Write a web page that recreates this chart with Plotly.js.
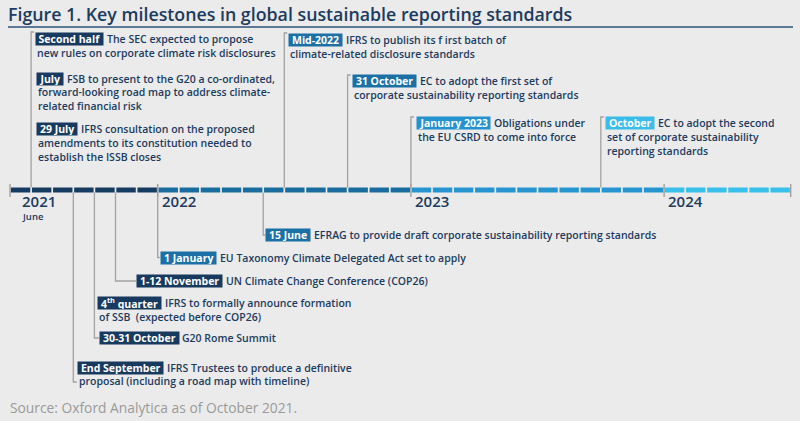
<!DOCTYPE html>
<html><head><meta charset="utf-8">
<script src="https://cdn.plot.ly/plotly-3.0.1.min.js"></script>
<style>html,body{margin:0;padding:0;background:#ebebeb;}</style>
</head><body>
<div id="chart" style="width:800px;height:421px;"></div>
<script>
// ---------------- DATA ----------------
const timelineStart = '2021-06';
const timelineEnd = '2024-06';           // last month drawn on the bar
const yearLabels = ['2021', '2022', '2023', '2024'];
const yearTickDates = ['2021-06', '2022-01', '2023-01', '2024-01'];
const firstMonthLabel = 'June';

const eventDates = ['2021-07', '2021-07', '2021-07', '2022-07', '2022-10', '2023-01', '2023-10',
                    '2022-06', '2022-01', '2021-11', '2021-10', '2021-10', '2021-09'];
const eventLabels = ['Second half', 'July', '29 July', 'Mid-2022', '31 October', 'January 2023', 'October',
                     '15 June', '1 January', '1-12 November', '4<sup>th</sup> quarter', '30-31 October', 'End September'];
const eventTexts = [
  ['The SEC expected to propose', 'new rules on corporate climate risk disclosures'],
  ['FSB to present to the G20 a co-ordinated,', 'forward-looking road map to address climate-', 'related financial risk'],
  ['IFRS consultation on the proposed', 'amendments to its constitution needed to', 'establish the ISSB closes'],
  ['IFRS to publish its f irst batch of', 'climate-related disclosure standards'],
  ['EC to adopt the first set of', 'corporate sustainability reporting standards'],
  ['Obligations under', 'the EU CSRD to come into force'],
  ['EC to adopt the second', 'set of corporate sustainability', 'reporting standards'],
  ['EFRAG to provide draft corporate sustainability reporting standards'],
  ['EU Taxonomy Climate Delegated Act set to apply'],
  ['UN Climate Change Conference (COP26)'],
  ['IFRS to formally announce formation', 'of SSB  (expected before COP26)'],
  ['G20 Rome Summit'],
  ['IFRS Trustees to produce a definitive', 'proposal (including a road map with timeline)']
];
const titleText = 'Figure 1. Key milestones in global sustainable reporting standards';
const sourceText = 'Source: Oxford Analytica as of October 2021.';

// ---------------- LAYOUT / STYLE ----------------
const yearColors = ['#163b61', '#1b6c9e', '#2594cf', '#38c0ea'];
const labelColors = ['#183a5e', '#183a5e', '#183a5e', '#1b70a5', '#1b70a5', '#2592d0', '#3bbde9',
                     '#1b70a5', '#1b70a5', '#183a5e', '#183a5e', '#183a5e', '#183a5e'];
const eventFirstY = [39, 78.5, 129, 40, 81, 123, 123, 235, 257.5, 281, 303, 338, 367.5];
const eventTextOffsetPx = [4, 5, 5, 4, 4, 5, 4, 2, 2, 20.5, 3, 4.5, 3.5];
const connectorY = [32, null, null, 33, 75, 117, 117, 235, 257.5, 281, null, 338, 382];
const stubPx = [3, 0, 0, 3, 3, 3, 3, 2, 2, 20.5, 0, 4.5, 3.5];
const barY = 190, barAboveY = 187.5, barBelowY = 192.5;
const LINE_H = 13.8;
const FONT = '"Open Sans", sans-serif';
const TEXT_COLOR = '#1c3b5e';
const BODY_SIZE = 10.5;
const X_RANGE = [-0.474, 37.44];
const W = 800, H = 421;
const pxPerMonth = W / (X_RANGE[1] - X_RANGE[0]);

function mIdx(s) { const [y, m] = s.split('-').map(Number); return (y - 2021) * 12 + (m - 6); }

const cv = document.createElement('canvas').getContext('2d');
function measure(html, weight, size) {
  cv.font = weight + ' ' + size + 'px "Open Sans"';
  const m = html.match(/^(.*)<sup>(.*)<\/sup>(.*)$/);
  if (m) {
    let w = cv.measureText(m[1] + m[3]).width;
    cv.font = weight + ' ' + (size * 0.7) + 'px "Open Sans"';
    return w + cv.measureText(m[2]).width;
  }
  return cv.measureText(html).width;
}

const traces = [];
// timeline bar: one segment per month, coloured by year
const s0 = mIdx(timelineStart), s1 = mIdx(timelineEnd);
yearLabels.forEach((yr, yi) => {
  const xs = [], ys = [];
  for (let m = s0; m <= s1; m++) {
    const yearOf = 2021 + Math.floor((m + 5) / 12);
    if (String(yearOf) !== yr) continue;
    xs.push(m + 0.04, m + 0.96, null); ys.push(barY, barY, null);
  }
  traces.push({x: xs, y: ys, mode: 'lines', line: {color: yearColors[yi], width: 5}, hoverinfo: 'skip'});
});
// tick marks at the ends and year starts
const tickXs = [], tickYs = [];
[s0, s1 + 1].concat(yearTickDates.slice(1).map(mIdx)).forEach(m => {
  tickXs.push(m, m, null); tickYs.push(184, 197, null);
});
traces.push({x: tickXs, y: tickYs, mode: 'lines', line: {color: '#9a9a9a', width: 1.3}, hoverinfo: 'skip'});

// connectors
const cx = [], cy = [];
eventDates.forEach((d, i) => {
  if (connectorY[i] === null) return;
  const m = mIdx(d);
  const above = connectorY[i] < barY;
  const y0 = above ? barAboveY : barBelowY;
  cx.push(m, m, m + stubPx[i] / pxPerMonth, null);
  cy.push(y0, connectorY[i], connectorY[i], null);
});
traces.push({x: cx, y: cy, mode: 'lines', line: {color: '#a2a2a2', width: 1.3}, hoverinfo: 'skip'});

const annotations = [];
eventDates.forEach((d, i) => {
  const m = mIdx(d);
  const off = eventTextOffsetPx[i];
  const bw = measure(eventLabels[i], 700, BODY_SIZE) + 6;
  annotations.push({x: m, y: eventFirstY[i], xref: 'x', yref: 'y', xanchor: 'left', yanchor: 'middle',
    xshift: off, text: eventLabels[i], showarrow: false, bgcolor: labelColors[i], borderpad: 0,
    width: bw, height: 12, align: 'center',
    font: {family: FONT, size: BODY_SIZE, color: '#ffffff', weight: 700}});
  eventTexts[i].forEach((line, li) => {
    annotations.push({x: m, y: eventFirstY[i] + li * LINE_H, xref: 'x', yref: 'y', xanchor: 'left', yanchor: 'middle',
      xshift: li === 0 ? off + bw + 3 : off, text: line, showarrow: false, align: 'left',
      font: {family: FONT, size: BODY_SIZE, color: TEXT_COLOR, weight: 600}});
  });
});
// year labels
yearLabels.forEach((yr, i) => {
  annotations.push({x: mIdx(yearTickDates[i]), y: 201, xref: 'x', yref: 'y', xanchor: 'left', yanchor: 'middle',
    xshift: i === 0 ? 10 : 2, text: yr, showarrow: false,
    font: {family: FONT, size: 15, color: TEXT_COLOR, weight: 600}});
});
annotations.push({x: mIdx(yearTickDates[0]), y: 216, xref: 'x', yref: 'y', xanchor: 'left', yanchor: 'middle',
  xshift: 10, text: firstMonthLabel, showarrow: false, font: {family: FONT, size: 9.5, color: TEXT_COLOR, weight: 600}});
// source
annotations.push({x: 8 / W, y: 407, xref: 'paper', yref: 'y', xanchor: 'left', yanchor: 'middle',
  text: sourceText, showarrow: false, font: {family: FONT, size: 13.8, color: '#9a9a9a', weight: 400}});

const layout = {
  width: W, height: H,
  margin: {l: 0, r: 0, t: 0, b: 0},
  paper_bgcolor: '#ebebeb', plot_bgcolor: '#ebebeb',
  showlegend: false, hovermode: false,
  title: {text: titleText, x: 8 / W, xanchor: 'left', xref: 'container', y: 1 - 15 / H, yanchor: 'middle', yref: 'container',
    font: {family: FONT, size: 17.8, color: '#1c3b5e', weight: 600}},
  xaxis: {range: X_RANGE, visible: false, fixedrange: true},
  yaxis: {range: [H, 0], visible: false, fixedrange: true},
  shapes: [{type: 'line', xref: 'paper', yref: 'y', x0: 8 / W, x1: 793 / W, y0: 27, y1: 27,
    line: {color: '#2d5279', width: 1.3}}],
  annotations: annotations
};
Plotly.newPlot('chart', traces, layout, {displayModeBar: false, staticPlot: true});
</script>
</body></html>
